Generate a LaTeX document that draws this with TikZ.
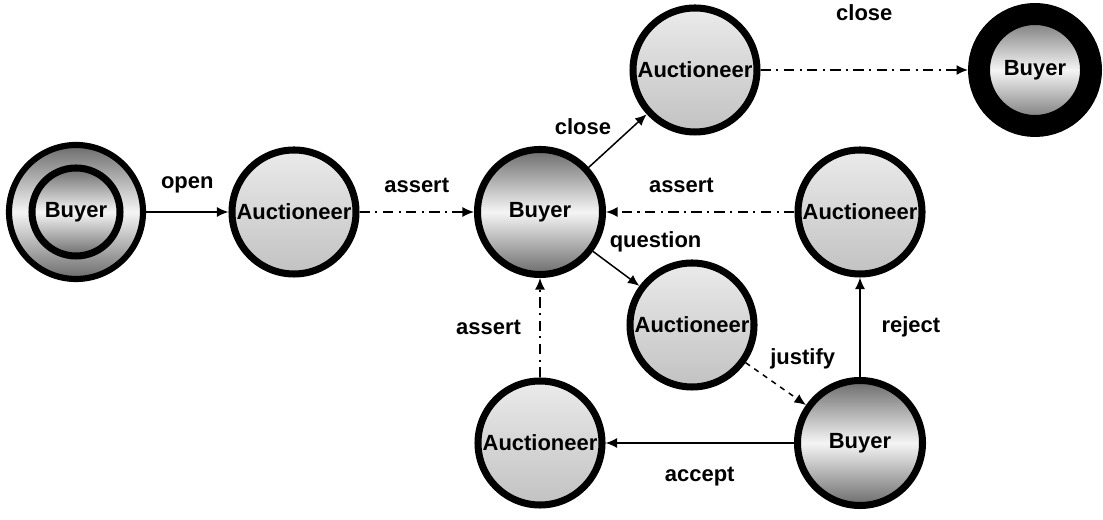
\documentclass[tikz,border=0pt]{standalone}
\usepackage{fontspec}
\setmainfont{Liberation Sans}
\usetikzlibrary{arrows.meta}
\tikzstyle{buyer node}  = [circle,draw,line width=4pt,minimum size=2.5cm,inner sep=0,
                           top color=black!58,bottom color=black!58,middle color=black!4]
\tikzstyle{auct node}   = [circle,draw,line width=4pt,minimum size=2.48cm,inner sep=0,
                           top color=black!8,bottom color=black!24]
\tikzstyle{move}        = [-{Latex[length=2.3mm,width=2mm]},line width=0.85pt]
\tikzstyle{dashdot}     = [dash pattern=on 6pt off 3pt on 1.2pt off 3pt]

\begin{document}
\begin{tikzpicture}[font=\fontsize{12.5}{14}\selectfont\bfseries]
\useasboundingbox (0,0) rectangle (22.06,10.4);

    % states
    \node(b0)[buyer node, minimum size=2.68cm, line width=3.5pt] at (1.52,6.16){};
    \node(b0in)[buyer node, minimum size=1.76cm] at (b0){Buyer};
    \node(a1)[auct node] at (5.88,6.16){Auctioneer};
    \node(b1)[buyer node] at (10.80,6.16){Buyer};
    \node(a2)[auct node] at (13.90,9.00){Auctioneer};
    \node(bf)[buyer node, minimum size=2.24cm, line width=12.5pt] at (20.70,9.00){Buyer};
    \node(a3)[auct node] at (17.20,6.16){Auctioneer};
    \node(a4)[auct node] at (13.84,3.90){Auctioneer};
    \node(b2)[buyer node] at (17.20,1.54){Buyer};
    \node(a5)[auct node] at (10.80,1.54){Auctioneer};

    % moves
    \draw[move](b0)--(a1) node[midway, above=0.25cm]{open};
    \draw[move, dashdot](a1)--(b1) node[midway, above=0.25cm]{assert};
    \draw[move](b1)--(a2) node[midway, above left]{close};
    \draw[move, dashdot](a2)--(bf) node[midway, above=0.85cm]{close};
    \draw[move, dashdot](a3)--(b1) node[pos=0.6, above=0.25cm]{assert};
    \draw[move](b1)--(a4) node[pos=0.22, above right]{question};
    \draw[move, dashed](a4)--(b2) node[pos=0.3, above right]{justify};
    \draw[move](b2)--(a3) node[midway, right=0.3cm]{reject};
    \draw[move](b2)--(a5) node[midway, below=0.35cm]{accept};
    \draw[move, dashdot](a5)--(b1) node[midway, left=0.25cm]{assert};

\end{tikzpicture}
\end{document}
